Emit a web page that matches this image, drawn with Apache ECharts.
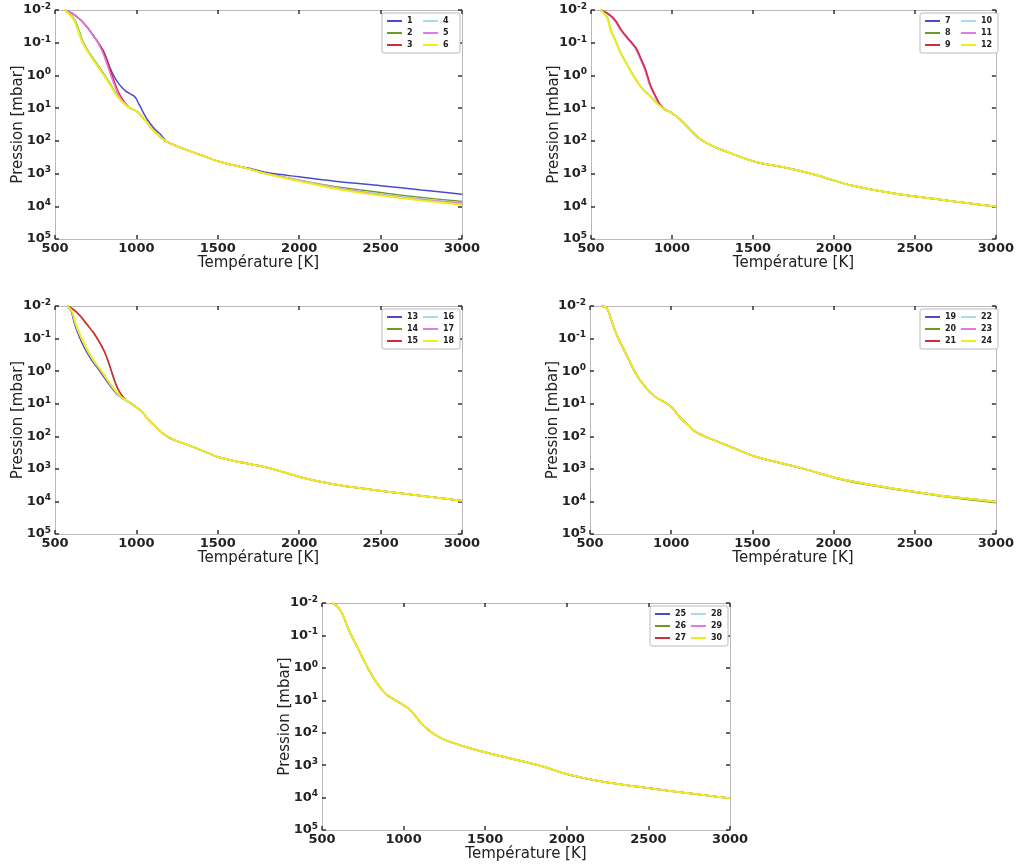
<!DOCTYPE html>
<html>
<head>
<meta charset="utf-8">
<script src="https://cdn.jsdelivr.net/npm/echarts@6/dist/echarts.min.js"></script>
<style>
html,body{margin:0;padding:0;background:#fff;}
#chart{width:1017px;height:866px;}
</style>
</head>
<body>
<div id="chart"></div>
<script>
// ---------------- DATA: [Température K, Pression mbar] ----------------
const xTicks = [500, 1000, 1500, 2000, 2500, 3000];
const yTickExponents = [-2, -1, 0, 1, 2, 3, 4, 5];
const seriesColors = ['#4b4bc8', '#6e9a22', '#d8283a', '#a8dce8', '#e27ae2', '#eeee1e'];
const legendNames = [
  ['1','2','3','4','5','6'],
  ['7','8','9','10','11','12'],
  ['13','14','15','16','17','18'],
  ['19','20','21','22','23','24'],
  ['25','26','27','28','29','30']
];

// Panel 1
const p1LateTop = [[560,0.01],[590,0.0115],[615,0.0135],[640,0.017],[666,0.022],[692,0.031],[717,0.045],[740,0.065],[760,0.09]];
const p1Knee = [[962,10],[1003,12.6],[1034,18],[1064,27],[1095,43],[1125,60],[1155,82]];
const p1Mid = [[1190,108],[1240,140],[1290,175],[1350,225],[1400,275],[1500,420],[1600,560]];
const s1Top = [[780,0.13],[800,0.19],[820,0.34],[840,0.62],[862,1.05],[885,1.6],[910,2.3],[935,3.0],[960,3.6],[980,4.1],[996,4.9],[1010,6.6],[1025,9.2],[1040,13],[1057,18.5],[1076,25.5],[1105,40],[1146,62]];
const s1Tail = [[1700,700],[1800,933],[2000,1260],[2250,1780],[2500,2340],[2750,3160],[3000,4270]];
const s2Top = [[560,0.01],[596,0.0138],[626,0.022],[649,0.045],[671,0.091],[704,0.18],[747,0.37],[790,0.76],[830,1.5],[867,3.1],[896,4.9],[923,7.1],[945,8.8]];
const s2Tail = [[1700,740],[1800,1000],[2000,1585],[2250,2630],[2500,3800],[2750,5370],[3000,7080]];
const s3Top = [[780,0.13],[800,0.2],[820,0.36],[840,0.7],[860,1.35],[880,2.5],[900,4.1],[920,5.9],[942,8.0]];
const s3Tail = [[1700,740],[1800,1020],[2000,1660],[2250,2950],[2500,4470],[2750,6310],[3000,8320]];
const s4Top = [[560,0.01],[593,0.0138],[623,0.022],[646,0.045],[668,0.091],[701,0.18],[743,0.37],[786,0.76],[827,1.5],[864,3.1],[894,4.9],[922,7.1],[945,8.8]];
const s4Tail = [[1700,740],[1800,1010],[2000,1620],[2250,2800],[2500,4200],[2750,5900],[3000,7800]];
const s5Top = [[778,0.14],[796,0.22],[814,0.38],[832,0.7],[850,1.25],[870,2.3],[890,3.9],[910,5.6],[932,7.4],[950,9.0]];
const s5Tail = [[1700,740],[1800,1015],[2000,1640],[2250,2900],[2500,4400],[2750,6200],[3000,8100]];
const s6Top = [[560,0.01],[590,0.0138],[620,0.022],[643,0.045],[665,0.091],[698,0.18],[740,0.37],[783,0.76],[824,1.5],[862,3.1],[892,4.9],[921,7.1],[945,8.8]];
const s6Tail = [[1700,745],[1800,1030],[2000,1700],[2250,3090],[2500,4680],[2750,6610],[3000,8910]];

// Panel 2
const p2Knee = [[959,11.2],[1000,14.1],[1041,20.4],[1092,36],[1125,53],[1155,74],[1190,100]];
const p2Mid = [[1240,135],[1290,175],[1350,225],[1407,290],[1519,440],[1620,560],[1712,676],[1800,850],[1900,1150],[2000,1620],[2100,2250],[2222,3000],[2425,4470],[2629,6030],[2833,8130],[3000,10200]];
const s7Top = [[560,0.01],[611,0.0138],[652,0.022],[683,0.04],[723,0.071],[775,0.145],[805,0.30],[835,0.68],[864,1.95],[892,3.9],[919,7.1],[940,9.3]];
const s8Top = [[560,0.01],[602,0.0174],[622,0.04],[653,0.091],[684,0.204],[724,0.47],[765,1.07],[816,2.45],[867,4.4],[918,7.9]];
const s9Top = [[560,0.01],[614,0.0138],[655,0.022],[686,0.04],[726,0.071],[778,0.145],[808,0.30],[838,0.68],[867,1.95],[895,3.9],[922,7.1],[942,9.3]];
const s10Top = [[560,0.01],[601,0.0174],[621,0.04],[652,0.091],[683,0.204],[723,0.47],[764,1.07],[815,2.45],[866,4.4],[917,7.9]];
const s11Top = [[560,0.01],[610,0.0138],[650,0.022],[681,0.04],[721,0.071],[773,0.145],[803,0.30],[833,0.68],[862,1.95],[890,3.9],[917,7.1],[938,9.3]];
const s12Top = [[560,0.01],[600,0.0174],[620,0.04],[651,0.091],[682,0.204],[722,0.47],[763,1.07],[814,2.45],[865,4.4],[917,7.9]];

// Panel 3
const p3Knee = [[962,9.5],[1000,13],[1041,19],[1066,28],[1100,42],[1130,58],[1160,80],[1195,105]];
const p3Mid = [[1240,135],[1311,180],[1400,270],[1506,440],[1650,640],[1780,860],[1864,1100],[2007,1800],[2212,2950],[2416,4170],[2621,5620],[2825,7410],[3000,9550]];
const s13Top = [[575,0.01],[600,0.0145],[618,0.033],[648,0.085],[681,0.195],[724,0.45],[775,1.0],[825,2.3],[866,4.2],[898,6.0],[930,7.6]];
const s14Top = [[575,0.01],[614,0.0129],[655,0.0204],[696,0.037],[736,0.066],[769,0.12],[802,0.245],[829,0.55],[851,1.2],[871,2.35],[892,4.0],[914,5.9],[939,8.0]];
const s15Top = [[575,0.01],[615,0.0129],[656,0.0204],[697,0.037],[737,0.066],[770,0.12],[803,0.245],[830,0.55],[852,1.2],[872,2.35],[893,4.0],[915,5.9],[940,8.0]];
const s16Top = [[575,0.01],[604,0.0145],[624,0.033],[657,0.085],[691,0.195],[734,0.45],[785,1.0],[834,2.3],[873,4.2],[902,6.0],[933,7.6]];
const s17Top = [[575,0.01],[604,0.0145],[624,0.033],[657,0.085],[691,0.195],[734,0.45],[785,1.0],[834,2.3],[873,4.2],[902,6.0],[933,7.6]];
const s18Top = [[575,0.01],[605,0.0145],[625,0.033],[658,0.085],[692,0.195],[735,0.45],[786,1.0],[835,2.3],[874,4.2],[903,6.0],[933,7.6]];

// Panel 4
const p4Profile = [[571,0.01],[600,0.0112],[615,0.015],[628,0.024],[650,0.05],[673,0.095],[724,0.31],[785,1.26],[846,3.3],[896,5.9],[967,9.5],[1008,13.5],[1049,24.5],[1089,39],[1125,58],[1160,78],[1211,103],[1270,135],[1333,182],[1420,270],[1516,417],[1650,620],[1821,1000],[2024,1950],[2228,3090],[2431,4470],[2634,6310],[2837,8320],[3000,10200]];
const p4Green = [[571,0.01],[600,0.0112],[615,0.015],[628,0.024],[650,0.05],[673,0.095],[724,0.31],[785,1.26],[846,3.3],[896,5.9],[967,9.5],[1008,13.5],[1049,24.5],[1089,39],[1125,58],[1160,78],[1211,103],[1270,135],[1333,182],[1420,272],[1516,420],[1650,630],[1821,1020],[2024,2000],[2228,3200],[2431,4650],[2634,6600],[2837,8900],[3000,11000]];

// Panel 5
const p5Profile = [[561,0.01],[592,0.0126],[622,0.0204],[663,0.066],[714,0.219],[776,0.91],[837,2.95],[898,6.8],[980,12.3],[1041,20],[1082,35.5],[1110,52],[1143,75],[1180,105],[1245,160],[1408,302],[1612,550],[1816,977],[2020,2000],[2224,3240],[2429,4570],[2633,6310],[2837,8320],[3000,10500]];

// ---------------- assemble series data ----------------
const join = (...parts) => [].concat(...parts);
const panelData = [
  [join(p1LateTop, s1Top, p1Mid, s1Tail), join(s2Top, p1Knee, p1Mid, s2Tail), join(p1LateTop, s3Top, p1Knee, p1Mid, s3Tail),
   join(s4Top, p1Knee, p1Mid, s4Tail), join(p1LateTop, s5Top, p1Knee, p1Mid, s5Tail), join(s6Top, p1Knee, p1Mid, s6Tail)],
  [join(s7Top, p2Knee, p2Mid), join(s8Top, p2Knee, p2Mid), join(s9Top, p2Knee, p2Mid),
   join(s10Top, p2Knee, p2Mid), join(s11Top, p2Knee, p2Mid), join(s12Top, p2Knee, p2Mid)],
  [join(s13Top, p3Knee, p3Mid), join(s14Top, p3Knee, p3Mid), join(s15Top, p3Knee, p3Mid),
   join(s16Top, p3Knee, p3Mid), join(s17Top, p3Knee, p3Mid), join(s18Top, p3Knee, p3Mid)],
  [p4Profile, p4Green, p4Profile, p4Profile, p4Profile, p4Profile],
  [p5Profile, p5Profile, p5Profile, p5Profile, p5Profile, p5Profile]
];

// ---------------- layout ----------------
const W = 1017;
const FONT = 'DejaVu Sans';
const grids = [
  {left: 55, top: 10, width: 407, height: 229},
  {left: 591, top: 10, width: 409, height: 229},
  {left: 55, top: 306, width: 407, height: 228},
  {left: 590, top: 306, width: 410, height: 228},
  {left: 322, top: 603, width: 408, height: 227}
];

const frameColor = '#bdb6bd';
const tickColor = '#333';
const xAxes = [], yAxes = [], series = [], legends = [];

grids.forEach((g, i) => {
  const baseX = {
    gridIndex: i, type: 'value', min: xTicks[0], max: xTicks[xTicks.length - 1],
    interval: xTicks[1] - xTicks[0],
    axisLine: {show: true, lineStyle: {color: frameColor, width: 1}},
    axisTick: {show: true, inside: true, length: 4, lineStyle: {color: tickColor, width: 1.5}},
    splitLine: {show: false}
  };
  xAxes.push(Object.assign({}, baseX, {
    position: 'bottom',
    axisLabel: {margin: 3, fontSize: 13, fontWeight: 'bold', color: '#222', fontFamily: FONT,
      formatter: v => String(v)},
    name: 'Température [K]', nameLocation: 'middle', nameGap: 17, nameMoveOverlap: false,
    nameTextStyle: {fontSize: 15, color: '#222', fontFamily: FONT}
  }));
  xAxes.push(Object.assign({}, baseX, {position: 'top', axisLabel: {show: false}}));

  const baseY = {
    gridIndex: i, type: 'log', logBase: 10,
    min: Math.pow(10, yTickExponents[0]), max: Math.pow(10, yTickExponents[yTickExponents.length - 1]),
    splitNumber: yTickExponents.length - 1,
    inverse: true,
    axisLine: {show: true, lineStyle: {color: frameColor, width: 1}},
    axisTick: {show: true, inside: true, length: 4, lineStyle: {color: tickColor, width: 1.5}},
    splitLine: {show: false},
    minorTick: {show: false}
  };
  yAxes.push(Object.assign({}, baseY, {
    position: 'left',
    axisLabel: {
      margin: 4,
      formatter: v => '{b|10}{s|' + Math.round(Math.log10(v)) + '}',
      rich: {
        b: {fontSize: 13, fontWeight: 'bold', color: '#222', fontFamily: FONT, lineHeight: 16},
        s: {fontSize: 9, fontWeight: 'bold', color: '#222', fontFamily: FONT, verticalAlign: 'top', lineHeight: 10}
      }
    },
    name: 'Pression [mbar]', nameLocation: 'middle', nameGap: 29, nameMoveOverlap: false,
    nameTextStyle: {fontSize: 15, color: '#222', fontFamily: FONT}
  }));
  yAxes.push(Object.assign({}, baseY, {position: 'right', axisLabel: {show: false}}));

  panelData[i].forEach((d, k) => {
    // panel 2: magenta drawn beneath red so the late group reads dark red/purple
    const z = (i === 1 && k === 4) ? 2.5 : 2 + k;
    series.push({
      type: 'line', name: legendNames[i][k],
      xAxisIndex: 2 * i, yAxisIndex: 2 * i,
      data: d, symbol: 'none', smooth: 0.3,
      color: seriesColors[k],
      itemStyle: {color: seriesColors[k]},
      lineStyle: {color: seriesColors[k], width: k === 5 ? 2 : 1.5},
      z: z
    });
  });

  legends.push({
    data: legendNames[i], orient: 'vertical', selectedMode: false,
    top: g.top + 3, right: W - (g.left + g.width) + 2,
    height: 35, itemGap: 2, itemWidth: 15, itemHeight: 2, icon: 'rect', itemTextGap: 7,
    padding: [3, 3, 3, 5], borderColor: '#bbb', borderWidth: 1, borderRadius: 2, backgroundColor: '#fff',
    textStyle: {fontSize: 8, fontWeight: 'bold', color: '#222', lineHeight: 10, width: 14, fontFamily: FONT}
  });
});

const chart = echarts.init(document.getElementById('chart'), null, {renderer: 'canvas'});
chart.setOption({
  animation: false,
  backgroundColor: '#fff',
  grid: grids,
  xAxis: xAxes,
  yAxis: yAxes,
  legend: legends,
  series: series
});
</script>
</body>
</html>
